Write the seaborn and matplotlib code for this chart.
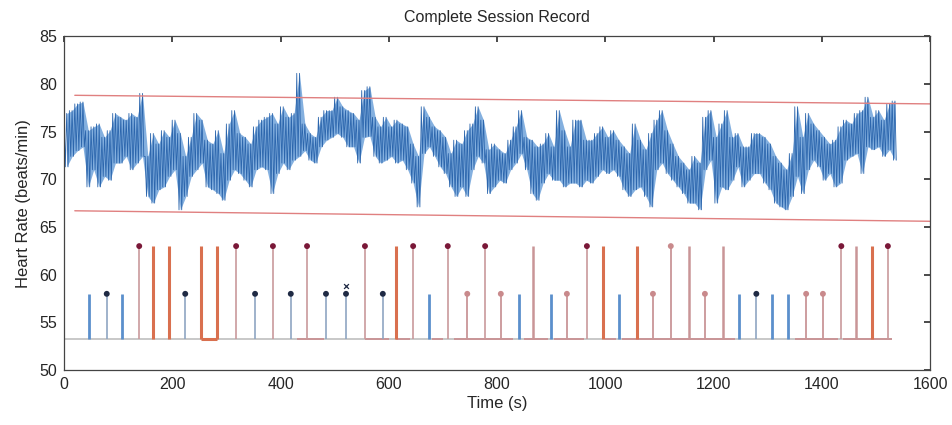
import numpy as np
import pandas as pd
import matplotlib
matplotlib.use("Agg")
import matplotlib.pyplot as plt
import seaborn as sns

# ---------------- data ----------------
bin_width = 10  # seconds per bin of the heart-rate trace
hr_hi = [76.9, 77.2, 77.9, 78.1, 75.1, 75.5, 75.8, 74.4, 75.1, 76.9, 76.5, 76.2, 76.9, 76.5, 79.0, 72.4, 74.8, 73.7, 75.1, 74.4,
         76.2, 74.8, 72.4, 74.4, 76.9, 76.2, 74.1, 73.7, 75.1, 72.7, 75.8, 77.2, 74.8, 74.4, 73.7, 75.5, 76.2, 76.5,
         76.9, 75.8, 77.6, 76.5, 76.9, 81.1, 75.8, 74.8, 74.4, 76.5, 77.2, 77.2, 78.6, 77.6, 77.2, 76.9, 76.2, 79.3, 79.7, 76.5,
         75.5, 76.5, 75.5, 76.2, 75.8, 75.5, 73.7, 72.4, 77.6, 76.5, 75.5, 75.1, 74.4, 72.7, 74.1, 73.7, 75.1, 75.8, 77.6,
         76.2, 73.1, 73.7, 73.1, 72.7, 74.1, 75.5, 77.2, 74.4, 74.1, 73.4, 73.7, 74.8, 73.4, 77.2, 75.1, 73.4, 76.2, 76.2, 74.1,
         74.1, 74.8, 75.5, 74.4, 75.1, 74.1, 73.4, 72.7, 75.8, 74.1, 73.1, 74.8, 76.2, 77.2, 75.1, 73.7, 72.4, 71.7, 71.0,
         72.4, 71.7, 76.5, 77.2, 74.4, 75.8, 77.2, 74.4, 74.8, 73.4, 73.4, 74.8, 74.8, 74.4, 73.7, 72.4, 71.7, 71.0, 72.7, 77.6,
         74.4, 76.9, 75.8, 75.1, 74.4, 73.7, 74.1, 75.5, 76.2, 75.8, 76.9, 77.2, 78.6, 76.5, 77.2, 76.2, 77.9, 78.2]
hr_lo = [71.3, 72.4, 73.0, 73.4, 69.2, 71.0, 69.2, 70.3, 69.9, 71.7, 71.7, 72.4, 71.0, 71.7, 72.4, 68.2, 67.5, 68.9, 69.2, 70.3,
         71.0, 66.8, 68.2, 70.3, 71.0, 71.7, 69.2, 68.9, 68.5, 67.8, 69.9, 71.0, 70.6, 69.9, 69.2, 71.0, 71.3, 71.0,
         68.5, 70.6, 71.7, 71.0, 72.0, 72.4, 73.0, 72.0, 71.7, 73.4, 74.1, 74.4, 74.8, 74.4, 73.4, 73.4, 71.7, 74.4, 74.5, 72.4,
         71.7, 72.0, 72.4, 71.7, 72.0, 71.0, 69.6, 67.1, 72.7, 73.4, 72.4, 71.3, 70.6, 69.2, 68.2, 69.2, 68.2, 71.0, 72.4,
         71.7, 68.5, 69.2, 69.9, 69.6, 71.0, 71.7, 72.7, 71.0, 68.5, 67.8, 69.6, 70.6, 69.9, 69.9, 69.2, 69.6, 69.6, 69.2, 69.9,
         69.6, 70.3, 71.0, 70.6, 71.0, 70.3, 68.9, 68.2, 68.9, 69.2, 68.2, 67.1, 71.0, 71.7, 70.6, 69.9, 69.2, 68.5, 67.5,
         67.5, 66.8, 71.0, 72.0, 67.5, 69.2, 68.9, 69.9, 71.3, 69.2, 69.9, 70.6, 70.6, 69.6, 68.9, 67.5, 67.1, 66.8, 68.2, 70.3,
         68.5, 71.0, 72.0, 71.3, 69.9, 70.6, 69.2, 69.6, 72.0, 72.4, 72.7, 70.6, 73.4, 73.1, 73.4, 72.4, 73.1, 72.0]

upper_limit_t = [20, 1600]
upper_limit_v = [78.8, 77.9]
lower_limit_t = [20, 1600]
lower_limit_v = [66.7, 65.6]

event_baseline = 53.3
event_t = [46, 79, 107, 139, 164, 194, 224, 253, 283, 318, 353, 386, 419, 449, 484, 521, 556, 589, 613, 645,
           674, 709, 745, 778, 807, 841, 866, 900, 929, 966, 996, 1025, 1059, 1088, 1121, 1155, 1184, 1218,
           1247, 1279, 1308, 1338, 1371, 1402, 1436, 1463, 1493, 1522]
event_v = [58, 58, 58, 63, 63, 63, 58, 63, 63, 63, 58, 63, 58, 63, 58, 58, 63, 58, 63, 63,
           58, 63, 58, 63, 58, 58, 63, 58, 58, 63, 63, 58, 63, 58, 63, 63, 58, 63,
           58, 58, 58, 58, 58, 58, 63, 63, 63, 63]
# b = blue, bm = blue + marker, rm = pink + dark marker, o = orange, p = pink, pm = pink + pink marker
event_kind = ['b', 'bm', 'b', 'rm', 'o', 'o', 'bm', 'o', 'o', 'rm', 'bm', 'rm', 'bm', 'rm', 'bm', 'bm', 'rm', 'bm', 'o', 'rm',
              'b', 'rm', 'pm', 'rm', 'pm', 'b', 'p', 'b', 'pm', 'rm', 'o', 'b', 'o', 'pm', 'pm', 'p', 'pm', 'p',
              'b', 'bm', 'b', 'b', 'pm', 'pm', 'rm', 'p', 'o', 'rm']
extra_t = [521]
extra_v = [58.8]

base_seg_start = [0, 253, 430, 556, 613, 680, 720, 850, 905, 1000, 1030, 1350, 1440]
base_seg_end = [1530, 283, 480, 600, 640, 700, 830, 895, 960, 1020, 1240, 1430, 1530]
base_seg_kind = ['g', 'o', 'p', 'p', 'p', 'p', 'p', 'p', 'p', 'p', 'p', 'p', 'p']

x_ticks = [0, 200, 400, 600, 800, 1000, 1200, 1400, 1600]
y_ticks = [50, 55, 60, 65, 70, 75, 80, 85]

# ---------------- style ----------------
sns.set_theme(style="white")
plt.rcParams['font.family'] = ['Liberation Sans', 'DejaVu Sans']

fig = plt.figure(figsize=(9.52, 4.25), dpi=100)
ax = fig.add_axes([0.0672, 0.129, 0.9098, 0.786])

colors = {
    'b': '#5b8fcc', 'bm': '#8fa6c2', 'rm': '#c99a9c', 'o': '#d9704f', 'p': '#c99597', 'pm': '#c99597',
    'g': '#c8c8c8'
}
marker_col = {'bm': '#1f2a44', 'rm': '#7a1838', 'pm': '#c98a8c'}
width = {'b': 2.0, 'bm': 1.2, 'rm': 1.2, 'o': 2.2, 'p': 1.8, 'pm': 1.3}

# heart-rate trace: band between bin extremes plus a dense zigzag through them
n = len(hr_hi)
bin_t = np.arange(n) * bin_width
zz_t, zz_v = [], []
for t0, h, l in zip(bin_t, hr_hi, hr_lo):
    zz_t += [t0, t0 + bin_width * 0.25, t0 + bin_width * 0.5, t0 + bin_width * 0.75]
    zz_v += [h, l, h, l]
ax.fill_between(bin_t + bin_width / 2, hr_lo, hr_hi, color='#6fa2da', alpha=0.85, lw=0)
df_hr = pd.DataFrame({'t': zz_t, 'v': zz_v})
sns.lineplot(data=df_hr, x='t', y='v', ax=ax, color='#2c66ad', lw=0.6, sort=False, estimator=None)

# limit lines
sns.lineplot(x=upper_limit_t, y=upper_limit_v, ax=ax, color='#e08080', lw=1.0)
sns.lineplot(x=lower_limit_t, y=lower_limit_v, ax=ax, color='#e08080', lw=1.0)

# baseline segments
for s, e, k in zip(base_seg_start, base_seg_end, base_seg_kind):
    ax.hlines(event_baseline, s, e, color=colors[k], lw=1.4 if k != 'o' else 2.2, zorder=2)

# event stems
for t, v, k in zip(event_t, event_v, event_kind):
    ax.vlines(t, event_baseline, v, color=colors[k], lw=width[k], zorder=3)
df_m = pd.DataFrame({'t': event_t, 'v': event_v, 'k': event_kind})
for k in ['bm', 'rm', 'pm']:
    sub = df_m[df_m.k == k]
    sns.scatterplot(data=sub, x='t', y='v', ax=ax, color=marker_col[k], s=18, edgecolor='none', zorder=4)
ax.scatter(extra_t, extra_v, marker='x', color='#1f2a44', s=12, lw=0.9, zorder=4)

ax.set_xlim(0, 1600)
ax.set_ylim(50, 85)
ax.set_xticks(x_ticks)
ax.set_yticks(y_ticks)
ax.tick_params(direction='in', length=4, top=True, right=True, labelsize=11.5, color='#333333', pad=5)
for sp in ax.spines.values():
    sp.set_color('#444444')
    sp.set_linewidth(0.9)
ax.set_xlabel('Time (s)', fontsize=12, labelpad=3)
ax.set_ylabel('Heart Rate (beats/min)', fontsize=12, labelpad=6)
ax.set_title('Complete Session Record', fontsize=11.5, pad=10)
if ax.get_legend():
    ax.get_legend().remove()

fig.savefig('out.png', dpi=100)
